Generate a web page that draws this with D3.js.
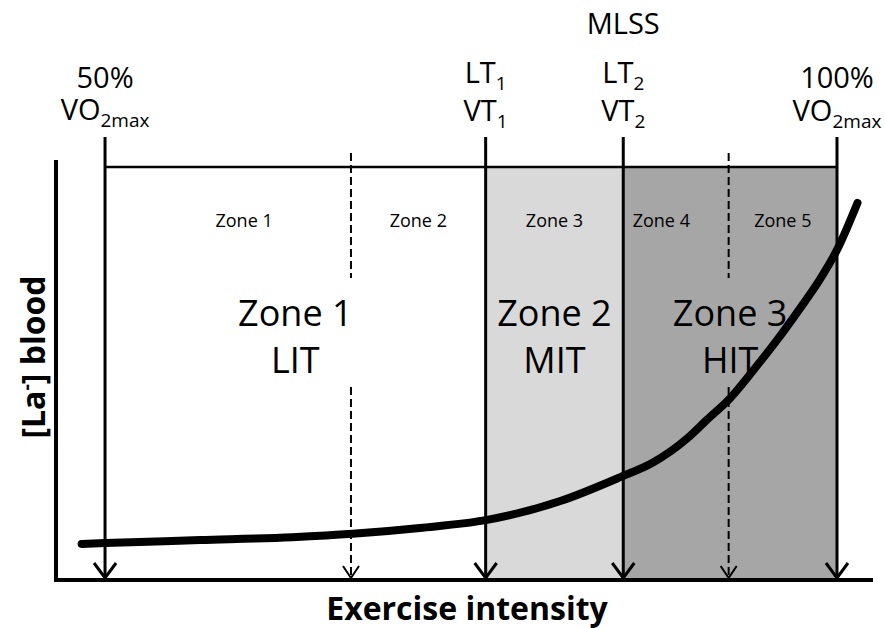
<!DOCTYPE html>
<html>
<head>
<meta charset="utf-8">
<script src="https://cdn.jsdelivr.net/npm/d3@7"></script>
<style>
  body { margin: 0; background: #fff; }
  svg { display: block; font-family: "Open Sans", sans-serif; }
</style>
</head>
<body>
<div id="chart"></div>
<script>
// exercise intensity in % of VO2max
const markerX      = [50, 66.8, 76, 85.4, 92.6, 100];
const markerDashed = [false, true, false, false, true, false];

const bandFrom  = [76, 85.4];
const bandTo    = [85.4, 100];
const bandColor = ["#d9d9d9", "#a6a6a6"];

const fiveZoneNames = ["Zone 1", "Zone 2", "Zone 3", "Zone 4", "Zone 5"];
const fiveZoneX     = [59.5, 71.4, 80.7, 88.0, 96.3];

const threeZoneNames = ["Zone 1", "Zone 2", "Zone 3"];
const threeZoneSub   = ["LIT", "MIT", "HIT"];
const threeZoneFrom  = [50, 76, 85.4];
const threeZoneTo    = [76, 85.4, 100];

// blood lactate curve (arbitrary units)
const lactateX = [48.4, 50, 56.5, 62.8, 66.9, 71.5, 76.1, 81.1, 85.2, 87.4, 89.8, 91.1, 92.7, 94.3, 95.9, 97.5, 98.8, 100.0, 101.4];
const lactateY = [0.86, 0.88, 0.95, 1.02, 1.10, 1.24, 1.43, 1.88, 2.45, 2.79, 3.38, 3.81, 4.33, 5.00, 5.71, 6.48, 7.14, 7.86, 8.98];

const W = 885, H = 628;
const axisLeft = 56, axisRight = 873, axisTop = 160, axisBottom = 580;
const bracketY = 167;

const x = d3.scaleLinear().domain([46.65, 102.46]).range([axisLeft, axisRight]);
const y = d3.scaleLinear().domain([0, 10]).range([axisBottom, axisTop]);

const svg = d3.select("#chart").append("svg")
    .attr("width", W)
    .attr("height", H);

// shaded bands
svg.append("g").selectAll("rect")
    .data(bandFrom)
    .enter().append("rect")
    .attr("x", d => x(d))
    .attr("y", bracketY)
    .attr("width", (d, i) => x(bandTo[i]) - x(d))
    .attr("height", axisBottom - bracketY)
    .attr("fill", (d, i) => bandColor[i]);

// bracket line on top
svg.append("line")
    .attr("x1", x(markerX[0])).attr("x2", x(markerX[markerX.length - 1]))
    .attr("y1", bracketY).attr("y2", bracketY)
    .attr("stroke", "#000").attr("stroke-width", 2.5);

// vertical markers with arrows
const markers = svg.append("g").selectAll("g")
    .data(markerX)
    .enter().append("g");

markers.each(function(d, i) {
    const g = d3.select(this);
    const px = x(d);
    const tip = axisBottom - 2;
    if (markerDashed[i]) {
        // dashed, broken around the big labels
        [[153, 278], [387, tip]].forEach(seg => {
            g.append("line")
                .attr("x1", px).attr("x2", px)
                .attr("y1", seg[0]).attr("y2", seg[1])
                .attr("stroke", "#000").attr("stroke-width", 2)
                .attr("stroke-dasharray", "8,4");
        });
        g.append("path")
            .attr("d", `M${px - 8},${tip - 12}L${px},${tip}L${px + 8},${tip - 12}`)
            .attr("fill", "none").attr("stroke", "#000").attr("stroke-width", 2);
    } else {
        g.append("line")
            .attr("x1", px).attr("x2", px)
            .attr("y1", 137).attr("y2", tip)
            .attr("stroke", "#000").attr("stroke-width", 3);
        g.append("path")
            .attr("d", `M${px - 11},${tip - 15}L${px},${tip}L${px + 11},${tip - 15}`)
            .attr("fill", "none").attr("stroke", "#000").attr("stroke-width", 3);
    }
});

// axes (plain lines, no ticks)
svg.append("path")
    .attr("d", `M${axisLeft},${axisTop}V${axisBottom}H${axisRight}`)
    .attr("fill", "none").attr("stroke", "#000").attr("stroke-width", 4)
    .attr("stroke-linejoin", "miter");

// five-zone labels
svg.append("g").selectAll("text")
    .data(fiveZoneNames)
    .enter().append("text")
    .attr("x", (d, i) => x(fiveZoneX[i]))
    .attr("y", 227)
    .attr("text-anchor", "middle")
    .attr("font-size", 18)
    .text(d => d);

// three-zone labels
const big = svg.append("g").selectAll("g")
    .data(threeZoneNames)
    .enter().append("g");
big.append("text")
    .attr("x", (d, i) => x((threeZoneFrom[i] + threeZoneTo[i]) / 2))
    .attr("y", 326)
    .attr("text-anchor", "middle")
    .attr("font-size", 36)
    .text(d => d);
big.append("text")
    .attr("x", (d, i) => x((threeZoneFrom[i] + threeZoneTo[i]) / 2))
    .attr("y", 373)
    .attr("text-anchor", "middle")
    .attr("font-size", 36)
    .text((d, i) => threeZoneSub[i]);

// top labels with subscripts
function subLabel(px, py, main, sub) {
    const t = svg.append("text")
        .attr("x", px).attr("y", py)
        .attr("text-anchor", "middle")
        .attr("font-size", 29);
    t.append("tspan").text(main);
    if (sub) t.append("tspan").attr("font-size", 19).attr("dy", 7).text(sub);
}
subLabel(x(50), 88, "50%");
subLabel(x(50), 120, "VO", "2max");
subLabel(x(76), 83, "LT", "1");
subLabel(x(76), 121, "VT", "1");
subLabel(x(85.4), 34, "MLSS");
subLabel(x(85.4), 83, "LT", "2");
subLabel(x(85.4), 121, "VT", "2");
subLabel(x(100), 88, "100%");
subLabel(x(100), 121, "VO", "2max");

// axis titles
svg.append("text")
    .attr("x", 467).attr("y", 620)
    .attr("text-anchor", "middle")
    .attr("font-size", 32).attr("font-weight", "bold")
    .text("Exercise intensity");

const yl = svg.append("text")
    .attr("transform", "translate(45,357) rotate(-90)")
    .attr("text-anchor", "middle")
    .attr("font-size", 32).attr("font-weight", "bold");
yl.append("tspan").text("[La");
yl.append("tspan").attr("font-size", 20).attr("dy", -12).text("-");
yl.append("tspan").attr("dy", 12).text("] blood");

// lactate curve
const line = d3.line()
    .x(d => x(d[0]))
    .y(d => y(d[1]))
    .curve(d3.curveMonotoneX);

svg.append("path")
    .datum(lactateX.map((v, i) => [v, lactateY[i]]))
    .attr("d", line)
    .attr("fill", "none")
    .attr("stroke", "#000")
    .attr("stroke-width", 8)
    .attr("stroke-linecap", "round");
</script>
</body>
</html>
